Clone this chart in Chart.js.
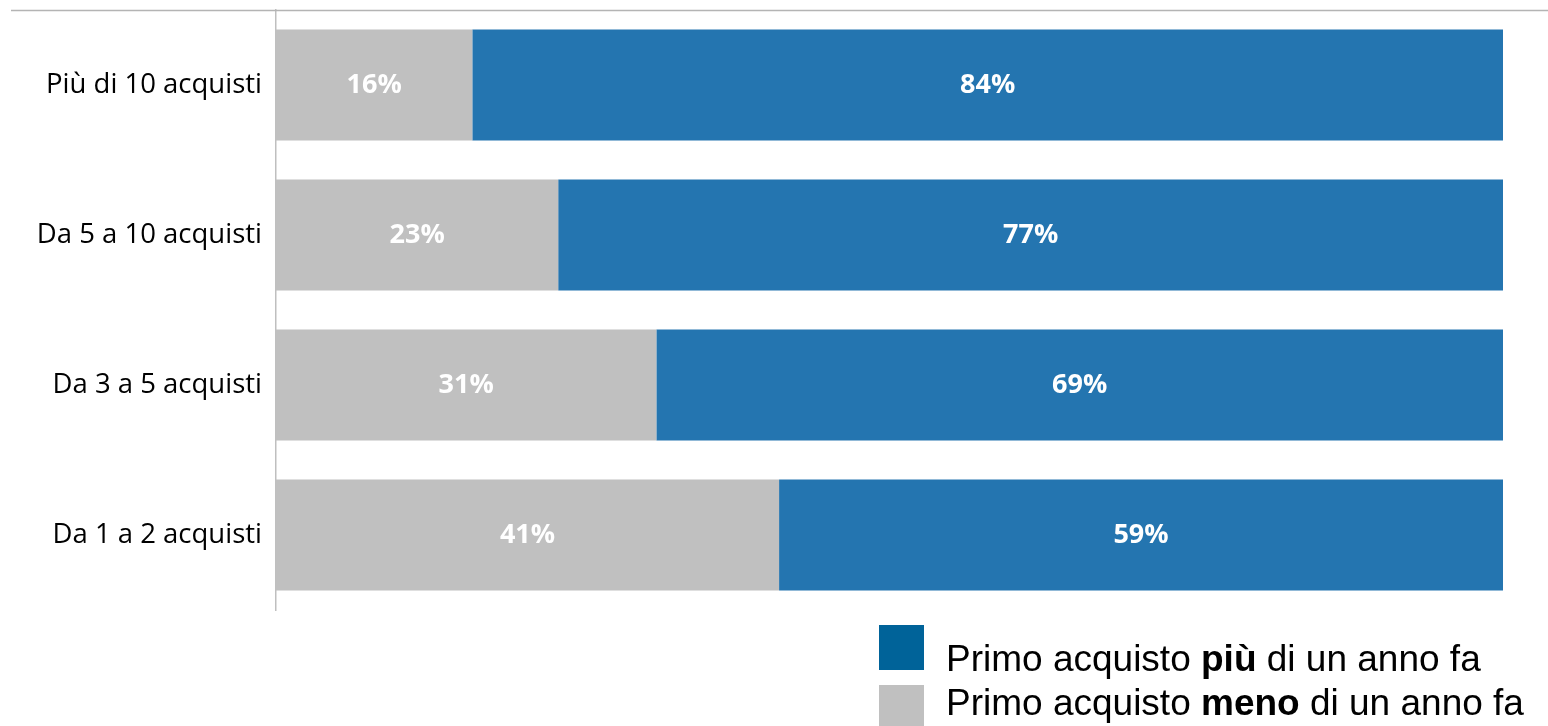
<!DOCTYPE html>
<html>
<head>
<meta charset="utf-8">
<script src="https://cdn.jsdelivr.net/npm/chart.js@4/dist/chart.umd.min.js"></script>
<style>
    html, body { margin: 0; padding: 0; background: #fff; overflow: hidden; }
    #wrap { position: relative; width: 1548px; height: 726px; }
    .key { position: absolute; left: 879px; width: 45px; height: 45px; }
    .legText {
        position: absolute; left: 946px; white-space: nowrap;
        font-family: "Liberation Sans", Arial, sans-serif; font-size: 37px;
        line-height: 44px; color: #000;
    }
</style>
</head>
<body>
<div id="wrap">
    <canvas id="chart" width="1548" height="726"></canvas>
    <div class="key" style="top:625px; background:#006399;"></div>
    <div class="legText" style="top:637px;">Primo acquisto <b>più</b> di un anno fa</div>
    <div class="key" style="top:685px; background:#c0c0c0;"></div>
    <div class="legText" style="top:681px;">Primo acquisto <b>meno</b> di un anno fa</div>
</div>
<script>
const categories = ['Più di 10 acquisti', 'Da 5 a 10 acquisti', 'Da 3 a 5 acquisti', 'Da 1 a 2 acquisti'];
const menoDiUnAnno = [16, 23, 31, 41];
const piuDiUnAnno = [84, 77, 69, 59];

// percentage labels in the middle of every segment
const segmentLabels = {
    id: 'segmentLabels',
    afterDatasetsDraw(chart) {
        const ctx = chart.ctx;
        ctx.save();
        ctx.font = 'bold 27px "Open Sans", sans-serif';
        ctx.fillStyle = '#ffffff';
        ctx.textAlign = 'center';
        ctx.textBaseline = 'middle';
        chart.data.datasets.forEach((ds, i) => {
            chart.getDatasetMeta(i).data.forEach((bar, j) => {
                const p = bar.getCenterPoint();
                ctx.fillText(ds.data[j] + '%', p.x, p.y);
            });
        });
        ctx.restore();
    }
};

// thin rule across the top of the chart
const topRule = {
    id: 'topRule',
    beforeDatasetsDraw(chart) {
        const ctx = chart.ctx;
        const y = Math.round(chart.chartArea.top) + 0.5;
        ctx.save();
        ctx.strokeStyle = '#b4b4b4';
        ctx.lineWidth = 1.5;
        ctx.beginPath();
        ctx.moveTo(11, y);
        ctx.lineTo(chart.width, y);
        ctx.stroke();
        ctx.restore();
    }
};

new Chart(document.getElementById('chart'), {
    type: 'bar',
    data: {
        labels: categories,
        datasets: [
            { label: 'Primo acquisto meno di un anno fa', data: menoDiUnAnno, backgroundColor: '#c0c0c0' },
            { label: 'Primo acquisto più di un anno fa', data: piuDiUnAnno, backgroundColor: '#2475b0' }
        ]
    },
    options: {
        indexAxis: 'y',
        responsive: false,
        animation: false,
        layout: { padding: { top: 10, bottom: 116, left: 0, right: 45 } },
        datasets: { bar: { categoryPercentage: 1, barPercentage: 0.74 } },
        plugins: {
            legend: { display: false },
            tooltip: { enabled: false }
        },
        scales: {
            x: { stacked: true, min: 0, max: 100, display: false },
            y: {
                stacked: true,
                grid: { display: false, drawTicks: false },
                border: { display: true, color: '#bfbfbf', width: 1.5 },
                ticks: {
                    padding: 14,
                    color: '#000',
                    font: { family: '"Open Sans", sans-serif', size: 27.5 }
                },
                afterFit(axis) {
                    axis.width = 276;
                    axis.paddingTop = 0;
                    axis.paddingBottom = 0;
                }
            }
        }
    },
    plugins: [segmentLabels, topRule]
});
</script>
</body>
</html>
